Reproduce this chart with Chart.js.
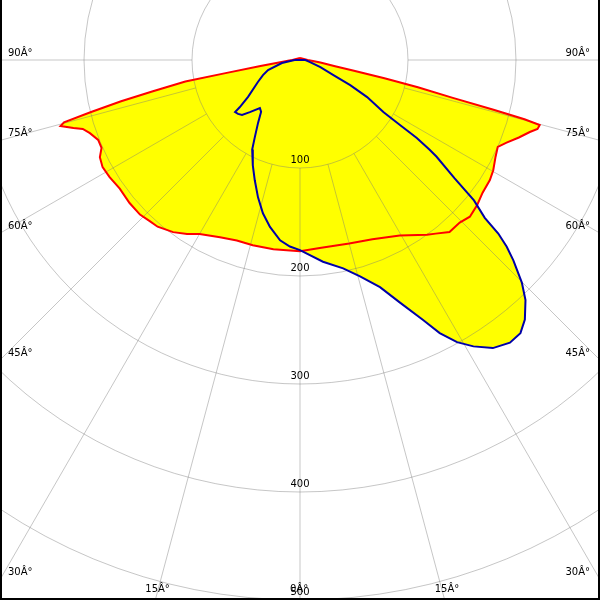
<!DOCTYPE html>
<html>
<head>
<meta charset="utf-8">
<script src="https://cdn.jsdelivr.net/npm/chart.js@4/dist/chart.umd.min.js"></script>
<style>
html,body{margin:0;padding:0;background:#fff;}
#wrap{width:600px;height:600px;position:relative;}
</style>
</head>
<body>
<div id="wrap"><canvas id="c" width="600" height="600"></canvas></div>
<script>
// C0-C180 plane (red)
const redAngles = [-180,-90,-87,-84,-81.5,-80,-79.4,-78,-77,-76,-75.2,-74.6,-73.3,-72.4,-70.8,-68.4,-66.1,-64.1,-61.5,-58.4,-54.5,-50,-46,-43,-40.5,-36.4,-33,-30,-24.3,-19.3,-14.3,-8,0,6,15,22,29.6,36,38,41,44.5,47.3,50.7,54,57.7,60.3,63.7,66.3,68.2,70.5,72.6,73.8,74.8,75.2,75.6,76.1,77,77.8,78.7,80,83,86,90,180];
const redValues = [2,7,10,16,37,70,108,140,170,200,226,230,219,211,206,201,201,206,208,207,205,206,206,204,203,198,192,186,180,177,177,177,177,175,176,179,187,200,204,211,211,214,212,209,208,206,202,200,206,215,223,229,230,215,185,145,112,80,50,33,19,12,7,2];
// C90-C270 plane (blue)
const blueAngles = [-90,-80.5,-72.6,-67.9,-62.4,-54.6,-51.9,-51.3,-49,-46.5,-43.9,-39.8,-36.9,-33.7,-30.3,-28.1,-24.1,-20.6,-17,-13.6,-10.2,-6.3,-3.1,0,6.5,11.7,15.5,19.4,22.4,25.3,27.1,29.1,31.2,33.8,36.6,38.9,40.9,43.2,44.9,46.8,47.9,48.8,49.5,51.1,52.6,54.7,55.3,56.3,57,58,61.1,63.4,65.6,70.7,78.7,90];
const blueValues = [5,17,31,37,44,59,71,77,76,74,67,58,60,70,83,94,107,119,133,146,157,168,173,176,188,197,208,223,243,266,284,299,310,321,326,325,318,305,291,271,258,244,225,207,180,155,146,130,110,91,71,52,34,20,9,5];
// grid
const ringValues = [100,200,300,400,500];
const ringLabels = ['100','200','300','400','500'];
const spokeAngles = [-90,-75,-60,-45,-30,-15,0,15,30,45,60,75,90];
const spokeLabels = ['90Â°','75Â°','60Â°','45Â°','30Â°','15Â°','0Â°','15Â°','30Â°','45Â°','60Â°','75Â°','90Â°'];

function toXY(angles, values){
  return angles.map((a,i)=>{
    const t = a*Math.PI/180;
    return {x: values[i]*Math.sin(t), y: -values[i]*Math.cos(t)};
  });
}
const redPts = toXY(redAngles, redValues); redPts.push(redPts[0]);
const bluePts = toXY(blueAngles, blueValues); bluePts.push(bluePts[0]);

const gridPlugin = {
  id:'polarGrid',
  beforeDatasetsDraw(chart){
    const ctx = chart.ctx, xs = chart.scales.x, ys = chart.scales.y;
    const cx = xs.getPixelForValue(0), cy = ys.getPixelForValue(0);
    const k = xs.getPixelForValue(100) - cx;
    ctx.save();
    ctx.strokeStyle = 'rgba(120,120,120,0.42)';
    ctx.lineWidth = 1;
    ringValues.forEach(v=>{
      ctx.beginPath();
      ctx.arc(cx, cy, v*k/100, 0, Math.PI*2);
      ctx.stroke();
    });
    const r0 = ringValues[0]*k/100, r1 = 2000;
    spokeAngles.forEach(a=>{
      const t = a*Math.PI/180;
      ctx.beginPath();
      ctx.moveTo(cx + r0*Math.sin(t), cy + r0*Math.cos(t));
      ctx.lineTo(cx + r1*Math.sin(t), cy + r1*Math.cos(t));
      ctx.stroke();
    });
    ctx.restore();
  },
  afterDraw(chart){
    const ctx = chart.ctx, xs = chart.scales.x, ys = chart.scales.y;
    const cx = xs.getPixelForValue(0), cy = ys.getPixelForValue(0);
    const k = xs.getPixelForValue(100) - cx;
    const W = chart.width, H = chart.height;
    ctx.save();
    ctx.fillStyle = '#000';
    ctx.font = '10px "DejaVu Sans"';
    ctx.textBaseline = 'middle';
    ringValues.forEach((v,i)=>{
      ctx.textAlign = 'center';
      ctx.fillText(ringLabels[i], cx, cy + v*k/100 - 8);
    });
    spokeAngles.forEach((a,i)=>{
      const t = a*Math.PI/180;
      const s = Math.sin(t), c = Math.cos(t);
      let yEdge = Infinity;
      if (Math.abs(s) > 1e-6) {
        const xEdge = s < 0 ? 0 : W;
        const d = (xEdge - cx)/s;
        yEdge = cy + d*c;
      }
      if (yEdge < H - 10) {
        if (s < 0) { ctx.textAlign = 'left'; ctx.fillText(spokeLabels[i], 8, yEdge - 7); }
        else { ctx.textAlign = 'right'; ctx.fillText(spokeLabels[i], W - 10, yEdge - 7); }
      } else {
        const d = (H - cy)/c;
        const xb = cx + d*s;
        ctx.textAlign = 'left';
        ctx.fillText(spokeLabels[i], xb - 10, H - 11);
      }
    });
    ctx.fillRect(0,0,2,H);
    ctx.fillRect(W-2,0,2,H);
    ctx.fillRect(0,H-2,W,2);
    ctx.restore();
  }
};

new Chart(document.getElementById('c'), {
  type: 'scatter',
  data: {
    datasets: [
      {label:'C90-C270', data: bluePts, showLine:true, borderColor:'#0000a8', borderWidth:2,
       backgroundColor:'#ffff00', fill:'shape', pointRadius:0, tension:0},
      {label:'C0-C180', data: redPts, showLine:true, borderColor:'#ff0000', borderWidth:2,
       backgroundColor:'#ffff00', fill:'shape', pointRadius:0, tension:0}
    ]
  },
  options: {
    responsive:false, animation:false, devicePixelRatio:1,
    layout:{padding:0},
    scales:{
      x:{type:'linear', display:false, min:-277.78, max:277.78},
      y:{type:'linear', display:false, min:-500, max:55.56}
    },
    plugins:{legend:{display:false}, tooltip:{enabled:false}, filler:{drawTime:'beforeDatasetsDraw'}}
  },
  plugins:[gridPlugin]
});
</script>
</body>
</html>
